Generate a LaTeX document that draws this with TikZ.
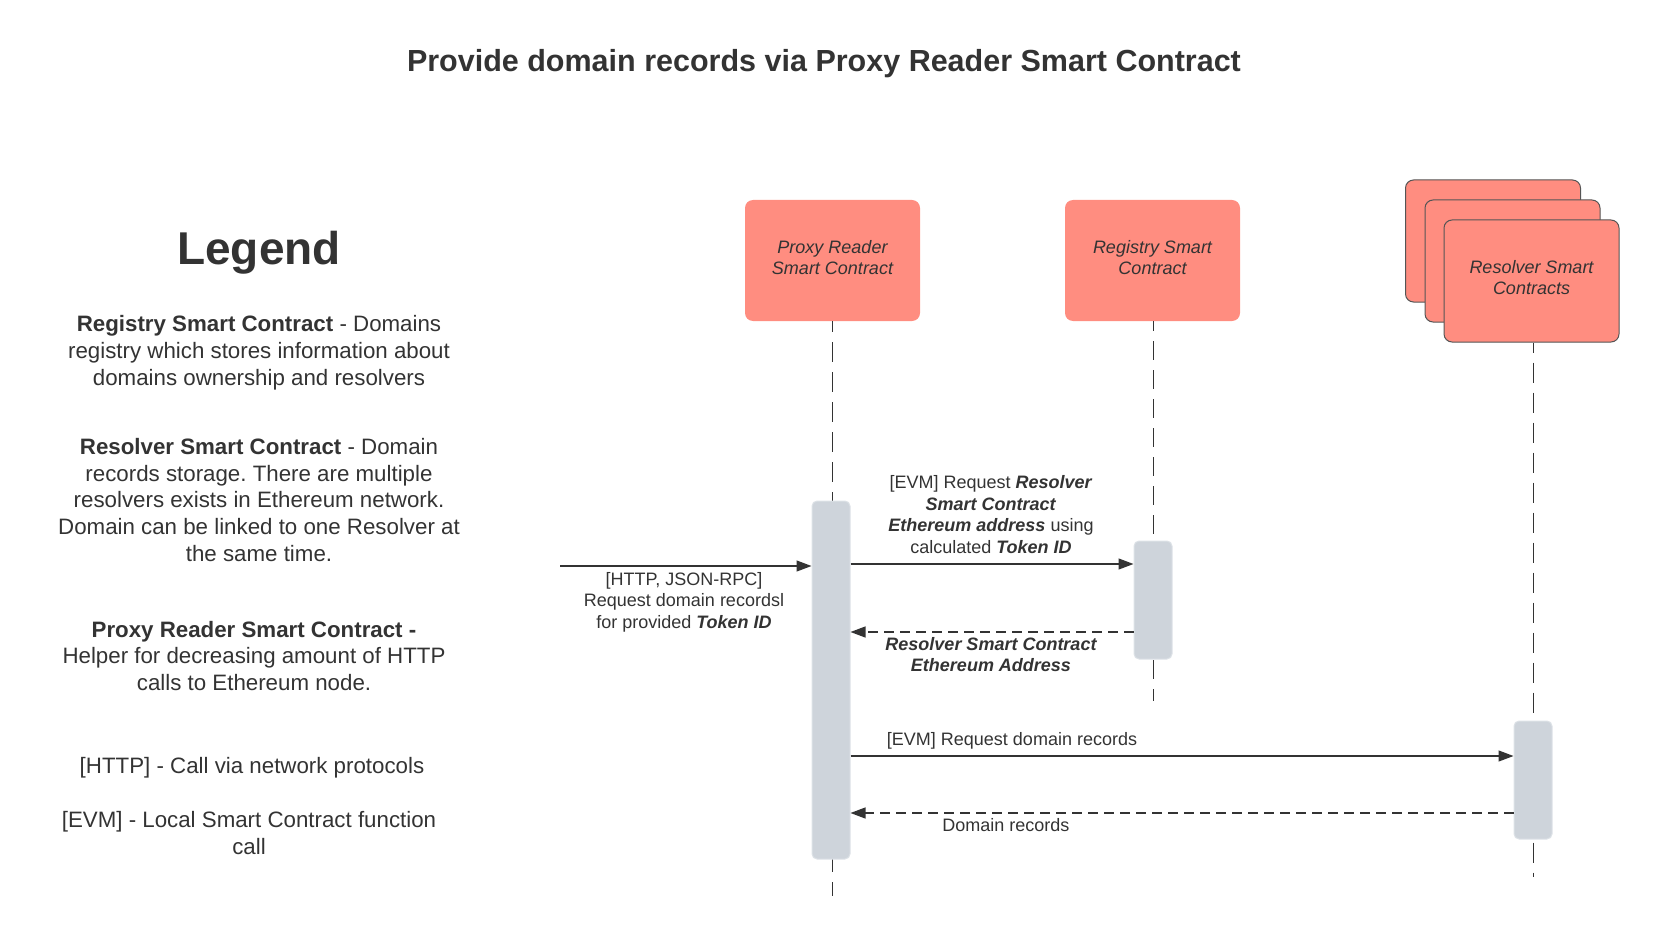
\documentclass[tikz,border=0pt]{standalone}
\usepackage{fontspec}
\setmainfont{Liberation Sans}
\usetikzlibrary{arrows.meta}
\frenchspacing
\definecolor{ink}{HTML}{333333}
\definecolor{salmon}{HTML}{FF8D80}
\definecolor{actfill}{HTML}{CED4DB}
\definecolor{actedge}{HTML}{DDE2E7}
\definecolor{boxedge}{HTML}{555555}
\begin{document}
\begin{tikzpicture}[x=1pt,y=-1pt,
  every node/.style={text=ink, inner sep=0pt},
  titletext/.style={font=\fontsize{30.5}{36}\selectfont\bfseries},
  legendhead/.style={font=\fontsize{46}{55}\selectfont\bfseries},
  legendtext/.style={font=\fontsize{22.3}{26.8}\selectfont, align=center},
  lbl/.style={font=\fontsize{18}{21.4}\selectfont, align=center},
  actor/.style={fill=salmon, rounded corners=8pt, minimum width=175, minimum height=121,
     font=\fontsize{18}{21}\selectfont\itshape, align=center},
  stackbox/.style={actor, draw=boxedge, line width=1pt, minimum height=122},
  act/.style={fill=actfill, draw=actedge, line width=1pt, rounded corners=5pt, minimum width=38},
  lifeline/.style={draw=ink, line width=1pt, dash pattern=on 20pt off 10pt, dash phase=9pt},
  msg/.style={draw=ink, line width=1.2pt, -{Triangle[length=15pt,width=11pt]}},
  ret/.style={msg, dash pattern=on 10pt off 6pt}
]
\useasboundingbox (0,0) rectangle (1660,936);

% title and legend
\node[titletext] (title) at (824,64) {Provide domain records via Proxy Reader Smart Contract};
\node[legendhead] (legend) at (259,253) {Legend};
\node[legendtext] (lreg) at (259,353) {\textbf{Registry Smart Contract} - Domains\\registry which stores information about\\domains ownership and resolvers};
\node[legendtext] (lres) at (259,500) {\textbf{Resolver Smart Contract} - Domain\\records storage. There are multiple\\resolvers exists in Ethereum network.\\Domain can be linked to one Resolver at\\the same time.};
\node[legendtext] (lprx) at (254,656) {\textbf{Proxy Reader Smart Contract -}\\Helper for decreasing amount of HTTP\\calls to Ethereum node.};
\node[legendtext] (lhttp) at (252,768) {[HTTP] - Call via network protocols};
\node[legendtext] (levm) at (249,833) {[EVM] - Local Smart Contract function\\call};

% actors
\node[actor] (proxy) at (832.5,260.5) {};
\node[actor, fill=none] (proxytxt) at (832.5,257.5) {Proxy Reader\\Smart Contract};
\node[actor] (registry) at (1152.5,260.5) {};
\node[actor, fill=none] (registrytxt) at (1152.5,257.5) {Registry Smart\\Contract};
\node[stackbox] (resback) at (1493,241) {};
\node[stackbox] (resmid) at (1512.5,261) {};
\node[stackbox] (resolver) at (1531.5,281) {};
\node[actor, fill=none] (resolvertxt) at (1531.5,278) {Resolver Smart\\Contracts};

% lifelines
\coordinate (pend) at (832,896);
\coordinate (gend) at (1153,701);
\coordinate (rend) at (1533,877);
\draw[lifeline] (proxy.south -| pend) -- (pend);
\draw[lifeline, dash pattern=on 19pt off 10pt, dash phase=9pt] (registry.south -| gend) -- (gend);
\draw[lifeline, dash phase=10pt] (resolver.south -| rend) -- (rend);

% activations
\node[act, minimum height=358] (pa) at (831,680) {};
\node[act, minimum height=118] (ga) at (1153,600) {};
\node[act, minimum height=118] (ra) at (1533,780) {};

% messages
\coordinate (src) at (560,566);
\coordinate (y1) at (0,564);
\coordinate (y2) at (0,632);
\coordinate (y3) at (0,756);
\coordinate (y4) at (0,813);
\draw[msg] (src) -- (src -| pa.west);
\draw[msg] (pa.east |- y1) -- (ga.west |- y1);
\draw[ret] (ga.west |- y2) -- (pa.east |- y2);
\draw[msg] (pa.east |- y3) -- (ra.west |- y3);
\draw[ret] (ra.west |- y4) -- (pa.east |- y4);

% labels
\node[lbl] (l1) at (684,602) {[HTTP, JSON-RPC]\\Request domain recordsl\\for provided \textbf{\textit{Token ID}}};
\node[lbl] (l2) at (991,514.5) {[EVM] Request \textbf{\textit{Resolver}}\\\textbf{\textit{Smart Contract}}\\\textbf{\textit{Ethereum address}} using\\calculated \textbf{\textit{Token ID}}};
\node[lbl, font=\fontsize{18}{21.4}\selectfont\bfseries\itshape] (l3) at (991,654.5) {Resolver Smart Contract\\Ethereum Address};
\node[lbl] (l4) at (1012,741) {[EVM] Request domain records};
\node[lbl] (l5) at (1006,825) {Domain records};
\end{tikzpicture}
\end{document}
